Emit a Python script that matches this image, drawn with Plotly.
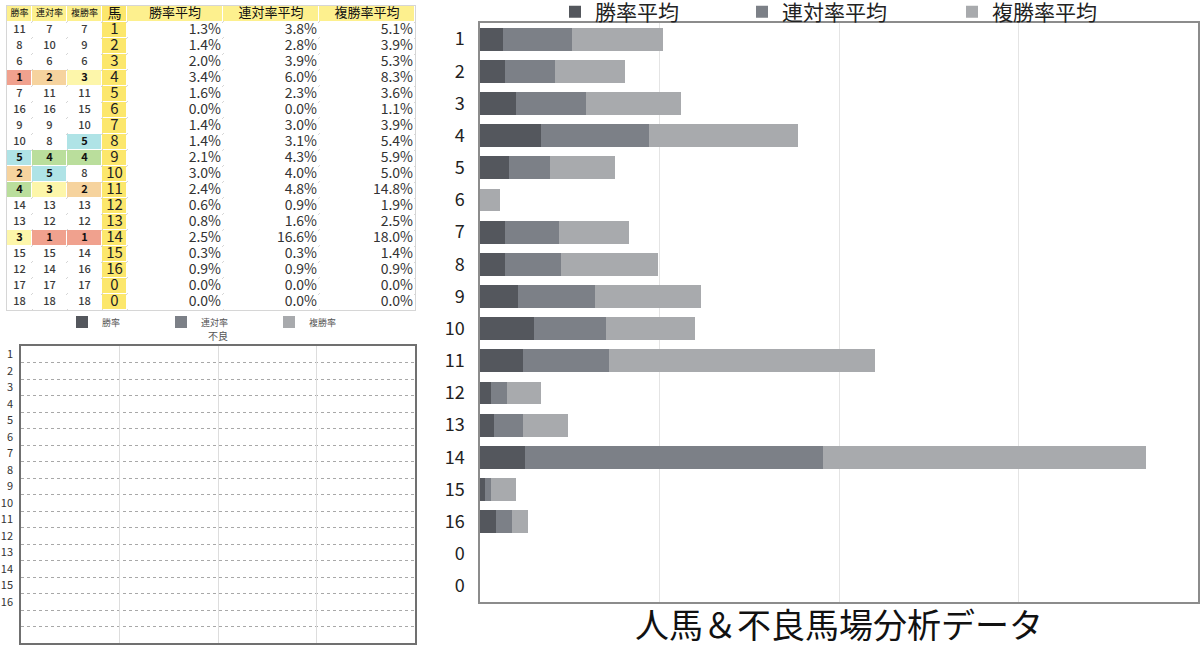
import plotly.graph_objects as go

# ---------------- data ----------------
horses = ["1", "2", "3", "4", "5", "6", "7", "8", "9", "10", "11", "12", "13", "14", "15", "16", "0", "0"]
rank_win = [11, 8, 6, 1, 7, 16, 9, 10, 5, 2, 4, 14, 13, 3, 15, 12, 17, 18]
rank_rentai = [7, 10, 6, 2, 11, 16, 9, 8, 4, 5, 3, 13, 12, 1, 15, 14, 17, 18]
rank_fuku = [7, 9, 6, 3, 11, 15, 10, 5, 4, 8, 2, 13, 12, 1, 14, 16, 17, 18]
win_avg = [1.3, 1.4, 2.0, 3.4, 1.6, 0.0, 1.4, 1.4, 2.1, 3.0, 2.4, 0.6, 0.8, 2.5, 0.3, 0.9, 0.0, 0.0]
rentai_avg = [3.8, 2.8, 3.9, 6.0, 2.3, 0.0, 3.0, 3.1, 4.3, 4.0, 4.8, 0.9, 1.6, 16.6, 0.3, 0.9, 0.0, 0.0]
fuku_avg = [5.1, 3.9, 5.3, 8.3, 3.6, 1.1, 3.9, 5.4, 5.9, 5.0, 14.8, 1.9, 2.5, 18.0, 1.4, 0.9, 0.0, 0.0]
table_headers = ["勝率", "連対率", "複勝率", "馬", "勝率平均", "連対率平均", "複勝率平均"]
series_names = ["勝率平均", "連対率平均", "複勝率平均"]

# small (不良) chart
sub_labels = ["1", "2", "3", "4", "5", "6", "7", "8", "9", "10", "11", "12", "13", "14", "15", "16", "", ""]
sub_names = ["勝率", "連対率", "複勝率"]
sub_win = [0, 0, 0, 0, 0, 0, 0, 0, 0, 0, 0, 0, 0, 0, 0, 0, 0, 0]
sub_rentai = [0, 0, 0, 0, 0, 0, 0, 0, 0, 0, 0, 0, 0, 0, 0, 0, 0, 0]
sub_fuku = [0, 0, 0, 0, 0, 0, 0, 0, 0, 0, 0, 0, 0, 0, 0, 0, 0, 0]
sub_title = "不良"
main_title = "人馬＆不良馬場分析データ"

# ---------------- style ----------------
W, H = 1200, 645
FONT = "Noto Sans CJK JP"
COLORS = ["#54575d", "#7c8087", "#a8aaad"]
# cell palette: 0 white, 1..5 rank colours, 6 header yellow, 7 horse-column yellow
PALETTE = ["#ffffff", "#f0a18e", "#f6d39e", "#fdf6aa", "#bade9c", "#afe3e6", "#fdf08e", "#fce76c"]
# table geometry (pixels)
COL_EDGES = [7, 32, 67, 102, 127, 223, 319, 415]
TABLE_TOP, ROW_H = 6, 16


def px_x(v):
    return v / W


def px_y(v):
    return 1 - v / H


ypos = list(range(len(horses)))
n = len(horses)
n_rows = n + 1
row_edges = [TABLE_TOP + ROW_H * k for k in range(n_rows + 1)]
row_centers = [(row_edges[k] + row_edges[k + 1]) / 2 for k in range(n_rows)]
col_centers = [(COL_EDGES[k] + COL_EDGES[k + 1]) / 2 for k in range(len(COL_EDGES) - 1)]
TABLE_BOTTOM = row_edges[-1]

fig = go.Figure()

# ---------------- table (heatmap cells + text) ----------------
def rank_code(r):
    return r if r <= 5 else 0


z = [[6, 6, 6, 7, 6, 6, 6]]
for i in range(n):
    z.append([rank_code(rank_win[i]), rank_code(rank_rentai[i]), rank_code(rank_fuku[i]), 7, 0, 0, 0])

colorscale = []
for k, c in enumerate(PALETTE):
    colorscale.append([k / len(PALETTE), c])
    colorscale.append([(k + 1) / len(PALETTE), c])

fig.add_trace(go.Heatmap(
    z=z, x=COL_EDGES, y=row_edges, zmin=-0.5, zmax=len(PALETTE) - 0.5,
    colorscale=colorscale, showscale=False, xgap=1, ygap=1,
    xaxis="x3", yaxis="y3", hoverinfo="skip",
))

# header texts
fig.add_trace(go.Scatter(
    x=col_centers, y=[row_centers[0]] * len(col_centers), mode="text", text=table_headers,
    textposition="middle center",
    textfont=dict(family=FONT, size=[9, 9, 9, 14, 13, 13, 13], color="#111111"),
    xaxis="x3", yaxis="y3", showlegend=False, hoverinfo="skip",
))

# rank columns
for ci, ranks in enumerate([rank_win, rank_rentai, rank_fuku]):
    fig.add_trace(go.Scatter(
        x=[col_centers[ci]] * n, y=row_centers[1:], mode="text",
        text=[f"<b>{r}</b>" if r <= 5 else str(r) for r in ranks],
        textposition="middle center",
        textfont=dict(family=FONT, size=11, weight=500,
                      color=["#111111" if r <= 5 else "#3c3c3c" for r in ranks]),
        xaxis="x3", yaxis="y3", showlegend=False, hoverinfo="skip",
    ))

# horse column
fig.add_trace(go.Scatter(
    x=[col_centers[3]] * n, y=row_centers[1:], mode="text", text=horses,
    textposition="middle center", textfont=dict(family=FONT, size=15, color="#222222"),
    xaxis="x3", yaxis="y3", showlegend=False, hoverinfo="skip",
))

# percentage columns (right aligned)
for ci, vals in zip([4, 5, 6], [win_avg, rentai_avg, fuku_avg]):
    fig.add_trace(go.Scatter(
        x=[COL_EDGES[ci + 1] - 2] * n, y=row_centers[1:], mode="text",
        text=[f"{v:.1f}%" for v in vals],
        textposition="middle left", textfont=dict(family=FONT, size=14, color="#333333"),
        xaxis="x3", yaxis="y3", showlegend=False, hoverinfo="skip",
    ))

# ---------------- main stacked bar chart ----------------
legend_x = [555, 742, 952]
for i, (name, vals) in enumerate(zip(series_names, [win_avg, rentai_avg, fuku_avg])):
    fig.add_trace(go.Bar(
        x=vals, y=ypos, orientation="h", name=name,
        marker=dict(color=COLORS[i], line=dict(width=0)),
        xaxis="x", yaxis="y",
        legend="legend" if i == 0 else f"legend{i + 1}",
        hovertemplate="%{x:.1f}%<extra>" + name + "</extra>",
    ))

# ---------------- small (empty) chart ----------------
sub_legend_x = [62, 161, 269]
for i, (name, vals) in enumerate(zip(sub_names, [sub_win, sub_rentai, sub_fuku])):
    fig.add_trace(go.Bar(
        x=vals, y=ypos, orientation="h", name=name,
        marker=dict(color=COLORS[i], line=dict(width=0)),
        xaxis="x2", yaxis="y2",
        legend=f"legend{i + 4}",
    ))

legends = {}
for i, lx in enumerate(legend_x):
    key = "legend" if i == 0 else f"legend{i + 1}"
    legends[key] = dict(
        x=px_x(lx), xanchor="left", y=px_y(12), yanchor="middle",
        orientation="h", bgcolor="rgba(0,0,0,0)", borderwidth=0,
        font=dict(family=FONT, size=21, color="#222222"),
    )
for i, lx in enumerate(sub_legend_x):
    legends[f"legend{i + 4}"] = dict(
        x=px_x(lx), xanchor="left", y=px_y(322), yanchor="middle",
        orientation="h", bgcolor="rgba(0,0,0,0)", borderwidth=0,
        font=dict(family=FONT, size=9, color="#555555"),
    )

fig.update_layout(
    width=W, height=H,
    margin=dict(l=0, r=0, t=0, b=0, autoexpand=False),
    paper_bgcolor="white", plot_bgcolor="white",
    font=dict(family=FONT, color="#222222"),
    barmode="stack", bargap=0.29,
    showlegend=True,
    title=dict(text=main_title, x=px_x(839), xanchor="center", y=1 - 626 / H, yanchor="middle",
               yref="container", font=dict(family=FONT, size=34, color="#111111")),
    xaxis=dict(domain=[px_x(480), px_x(1198)], range=[0, 40], dtick=10, showticklabels=False,
               showgrid=True, gridcolor="#e4e4e4", gridwidth=1, zeroline=False, ticks="",
               showline=True, mirror=True, linecolor="#8c8c8c", linewidth=1.5, anchor="y"),
    yaxis=dict(domain=[px_y(602), px_y(23)], range=[n - 0.5, -0.5],
               tickvals=ypos, ticktext=horses, showgrid=False, zeroline=False, ticks="",
               ticklabelstandoff=10, tickfont=dict(family=FONT, size=18, color="#222222"),
               showline=True, mirror=True, linecolor="#8c8c8c", linewidth=1.5, anchor="x"),
    xaxis2=dict(domain=[px_x(21), px_x(415)], range=[0, 4], dtick=1, showticklabels=False,
                showgrid=True, gridcolor="#dddddd", gridwidth=1, zeroline=False, ticks="",
                showline=True, mirror=True, linecolor="#707070", linewidth=1.5, anchor="y2"),
    yaxis2=dict(domain=[px_y(643), px_y(346)], range=[len(sub_labels) - 0.5, -0.5],
                tickvals=ypos, ticktext=sub_labels, showgrid=False, zeroline=False, ticks="",
                ticklabelstandoff=4, tickfont=dict(family=FONT, size=11, color="#333333"),
                minor=dict(tickvals=[v + 0.5 for v in ypos[:-1]], showgrid=True, gridcolor="#a8a8a8",
                           griddash="dot", gridwidth=1, ticks=""),
                showline=True, mirror=True, linecolor="#707070", linewidth=1.5, anchor="x2"),
    xaxis3=dict(domain=[px_x(COL_EDGES[0]), px_x(COL_EDGES[-1])], range=[COL_EDGES[0], COL_EDGES[-1]],
                tickvals=COL_EDGES, showticklabels=False, ticks="", showgrid=True,
                gridcolor="#d6d6d6", gridwidth=1, zeroline=False,
                showline=True, mirror=True, linecolor="#d6d6d6", linewidth=1, anchor="y3",
                fixedrange=True),
    yaxis3=dict(domain=[px_y(TABLE_BOTTOM), px_y(TABLE_TOP)], range=[TABLE_BOTTOM, TABLE_TOP],
                tickvals=row_edges, showticklabels=False, ticks="", showgrid=True,
                gridcolor="#d6d6d6", gridwidth=1, zeroline=False,
                showline=True, mirror=True, linecolor="#d6d6d6", linewidth=1, anchor="x3",
                fixedrange=True),
    annotations=[dict(text=sub_title, x=px_x(218), y=px_y(335), xref="paper", yref="paper",
                      xanchor="center", yanchor="middle", showarrow=False,
                      font=dict(family=FONT, size=10, color="#555555"))],
    **legends,
)

fig.write_html("out.html")
